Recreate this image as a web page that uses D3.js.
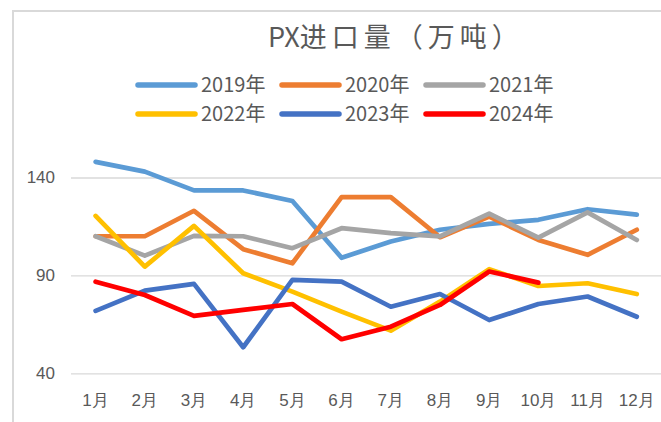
<!DOCTYPE html>
<html>
  <head>
    <meta charset="utf-8">
    <title>PX进口量</title>
    <script src="https://d3js.org/d3.v7.min.js"></script>
    <style>
      body { margin: 0; background: #fff; }
      svg { display: block; font-family: "Noto Sans CJK SC", "Noto Sans", sans-serif; }
      .axis text { fill: #595959; font-size: 17px; }
      .axis .domain { display: none; }
      .grid line { stroke: #D9D9D9; stroke-width: 1.3px; }
      .plot { fill: none; stroke-width: 4.7px; stroke-linejoin: round; stroke-linecap: round; }
    </style>
  </head>
  <body>
    <svg id="chart" width="661" height="422"></svg>
    <script>
      // data
      const months = ["1月", "2月", "3月", "4月", "5月", "6月", "7月", "8月", "9月", "10月", "11月", "12月"];
      const yTicks = [40, 90, 140];
      const seriesNames = ["2019年", "2020年", "2021年", "2022年", "2023年", "2024年"];
      const seriesColors = ["#5B9BD5", "#ED7D31", "#A5A5A5", "#FFC000", "#4472C4", "#FF0000"];
      const v2019 = [148, 143, 133.4, 133.4, 128, 99, 107.3, 113.3, 116.3, 118.4, 123.8, 121];
      const v2020 = [110, 110, 123, 103.4, 96.2, 130, 130, 109.5, 120, 108.1, 100.5, 113.3];
      const v2021 = [110, 100.1, 110.2, 110, 103.9, 114.1, 111.6, 109.9, 121.5, 109.3, 122.2, 108.1];
      const v2022 = [120.4, 94.5, 115.3, 91.1, 81.7, 71.5, 61.8, 76.6, 93.2, 84.6, 86, 80.5];
      const v2023 = [71.9, 82.2, 85.7, 53.3, 87.7, 86.8, 74, 80.5, 67.2, 75.4, 79.2, 68.9];
      const v2024 = [86.8, 80, 69.3, 72.4, 75.4, 57.4, 63.8, 74.9, 92, 86.3];
      const seriesValues = [v2019, v2020, v2021, v2022, v2023, v2024];

      const chart = d3.select("#chart");
      const margin = { top: 177.5, right: 0, bottom: 48.7, left: 71 };
      const width = 661, height = 422;

      // outer frame
      chart.append("rect")
        .attr("x", 13).attr("y", 11)
        .attr("width", 700).attr("height", 500)
        .attr("fill", "#fff")
        .attr("stroke", "#D9D9D9")
        .attr("stroke-width", 2);

      // title
      const title = chart.append("text")
        .attr("x", 268).attr("y", 46.5)
        .attr("fill", "#595959")
        .style("font-size", "27px");
      title.append("tspan").text("PX");
      title.append("tspan").attr("letter-spacing", "5px").text("进口量（万吨）");

      // scales
      const x = d3.scaleBand()
        .domain(months)
        .range([margin.left, margin.left + 49.2 * 12]);
      const y = d3.scaleLinear()
        .domain([40, 140])
        .range([height - margin.bottom, margin.top]);

      // axes
      const yAxis = d3.axisLeft(y)
        .tickValues(yTicks)
        .tickSizeInner(-(width - margin.left))
        .tickSizeOuter(0)
        .tickPadding(16);
      chart.append("g")
        .attr("class", "axis grid")
        .attr("transform", "translate(" + margin.left + ",0)")
        .call(yAxis);

      const xAxis = d3.axisBottom(x)
        .tickSize(0)
        .tickPadding(21);
      chart.append("g")
        .attr("class", "axis")
        .attr("transform", "translate(0," + (height - margin.bottom) + ")")
        .call(xAxis);

      // lines
      const line = d3.line()
        .x(function(d, i) { return x(months[i]) + x.bandwidth() / 2; })
        .y(function(d) { return y(d); });
      chart.append("g").selectAll(".plot")
        .data(seriesValues)
        .enter().append("path")
          .attr("class", "plot")
          .attr("stroke", function(d, i) { return seriesColors[i]; })
          .attr("d", line);

      // legend
      const legend = chart.append("g").selectAll(".key")
        .data(seriesNames)
        .enter().append("g")
          .attr("class", "key")
          .attr("transform", function(d, i) {
            return "translate(" + (138 + (i % 3) * 144) + "," + (85 + Math.floor(i / 3) * 29) + ")";
          });
      legend.append("line")
        .attr("x1", 0).attr("x2", 57)
        .attr("stroke", function(d, i) { return seriesColors[i]; })
        .attr("stroke-width", 5.5)
        .attr("stroke-linecap", "round");
      legend.append("text")
        .attr("x", 63).attr("dy", "0.36em")
        .attr("fill", "#595959")
        .style("font-size", "20px")
        .text(function(d) { return d; });
    </script>
  </body>
</html>
